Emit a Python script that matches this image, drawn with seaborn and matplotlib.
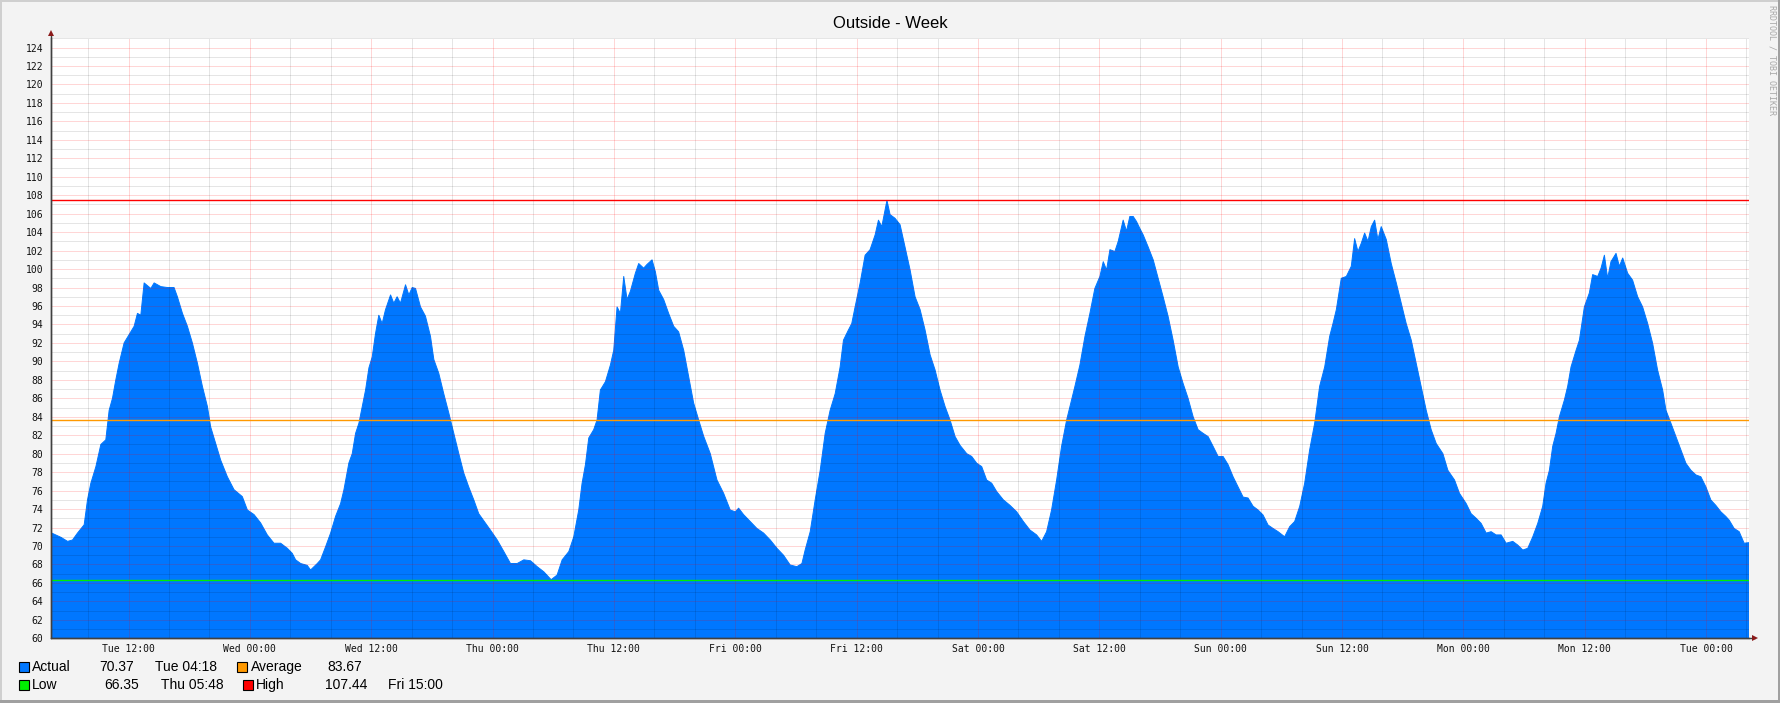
import matplotlib
matplotlib.use("Agg")
import numpy as np
import pandas as pd
import seaborn as sns
import matplotlib.pyplot as plt
from matplotlib.patches import Rectangle
from matplotlib.lines import Line2D
from matplotlib.ticker import MultipleLocator, FixedLocator

# ---------------- data (hours since Tue 00:00, temperature) ----------------
hours = [
    4.3, 5.31, 5.97, 6.46, 6.95, 7.61, 7.94, 8.27, 8.77, 9.26, 9.75, 10.08, 10.41, 10.74, 11.07,
    11.56, 12.06, 12.55, 12.88, 13.21, 13.54, 14.2, 14.53, 15.19, 15.84, 16.5, 16.83, 17.33,
    17.82, 18.31, 18.81, 19.3, 19.8, 20.12, 20.62, 21.11, 21.77, 22.43, 23.25, 23.75, 24.41,
    25.06, 25.72, 26.38, 27.04, 27.7, 28.19, 28.52, 29.02, 29.67, 30.0, 30.66, 30.99, 31.48,
    31.98, 32.47, 32.97, 33.3, 33.79, 34.12, 34.45, 34.78, 35.11, 35.44, 35.77, 36.1, 36.42,
    36.75, 37.08, 37.41, 37.91, 38.23, 38.56, 38.89, 39.39, 39.72, 40.05, 40.38, 40.87, 41.36,
    41.86, 42.19, 42.68, 43.17, 43.67, 44.16, 44.66, 45.15, 45.64, 46.14, 46.63,
    47.8, 48.46, 49.11, 49.77, 50.43, 51.09, 51.75, 52.41, 53.07, 53.79, 54.38, 54.88, 55.54,
    56.03, 56.52, 56.85, 57.18, 57.51, 58.0, 58.33, 58.66, 59.16, 59.65, 59.98, 60.31, 60.64,
    60.97, 61.3, 61.63, 62.12, 62.45, 62.94, 63.27, 63.77, 64.1, 64.43, 64.92, 65.41, 65.91,
    66.4, 66.9, 67.39, 67.88, 68.38, 68.87, 69.53, 70.19, 70.85, 71.5, 72.0, 72.33, 72.82,
    73.48, 74.14, 74.8, 75.46, 76.12, 76.77, 77.43, 78.09, 78.59, 78.91, 79.41, 79.9, 80.4,
    80.89, 81.38, 81.88, 82.37, 82.7, 83.19, 83.52, 83.85, 84.35, 84.84, 85.33, 85.83, 86.16,
    86.49, 87.0, 87.31, 87.8, 88.3, 88.79, 89.29,
    89.78, 90.28, 90.77, 91.27, 91.76, 92.25, 92.75, 93.24, 93.74, 94.23, 94.89, 95.38, 95.88,
    96.37, 96.86, 97.36, 97.85, 98.51, 99.17, 99.83, 100.49, 101.14, 101.8, 102.3, 102.79,
    103.28, 103.78, 104.27, 104.77, 105.1, 105.59, 106.08, 106.58, 107.07, 107.56, 108.06,
    108.39, 108.72, 109.05, 109.54, 109.87, 110.36, 110.69, 111.02, 111.35, 111.68, 112.01,
    112.34, 112.83, 113.33, 113.82, 114.31, 114.81, 115.3, 115.8, 116.29, 116.78, 117.28,
    117.77, 118.27, 118.76, 119.25, 119.75, 120.24, 120.74, 121.23, 121.72, 122.22, 122.71,
    123.21, 123.7, 124.19, 124.69, 125.18, 125.68, 126.33, 126.83, 127.32, 127.82, 128.31,
    128.8, 129.3, 129.79, 130.29,
    130.78, 131.11, 131.44, 131.93, 132.43, 132.92, 133.25, 133.58, 133.91, 134.24, 134.57,
    134.9, 135.23, 135.55, 135.88, 136.38, 136.87, 137.37, 137.86, 138.35, 138.85, 139.34,
    139.83, 140.33, 140.82, 141.32, 141.98, 142.47, 143.13, 143.62, 144.28, 144.77, 145.27,
    145.76, 146.26, 146.75, 147.24, 147.74, 148.23, 148.89, 149.38, 149.88, 150.37, 150.87,
    151.36, 151.85, 152.18, 152.51, 152.84, 153.17, 153.5, 153.99, 154.32, 154.65, 155.15,
    155.48, 155.97, 156.46, 156.79, 157.29, 157.62, 157.95, 158.27, 158.6, 159.1, 159.43,
    159.76, 160.25, 160.74, 161.24, 161.73, 162.23, 162.72, 163.21, 163.71, 164.04, 164.53,
    165.02, 165.52, 166.01, 166.51, 167.0, 167.49, 167.99, 168.48, 168.97, 169.47, 169.96,
    170.29, 170.78, 171.28, 171.77, 172.3,
]
temps = [
    71.45, 70.94, 70.5, 70.65, 71.4, 72.3, 75.0, 76.8, 78.6, 81.0, 81.5, 84.7, 86.0, 88.0, 89.8,
    92.0, 92.9, 93.8, 95.2, 95.0, 98.5, 97.9, 98.5, 98.1, 98.0, 98.0, 97.0, 95.2,
    93.8, 92.0, 89.8, 87.3, 85.1, 82.9, 81.1, 79.3, 77.5, 76.1, 75.35, 73.9, 73.4,
    72.5, 71.2, 70.3, 70.3, 69.75, 69.2, 68.5, 68.1, 67.9, 67.4, 68.1, 68.5, 69.9,
    71.4, 73.2, 74.6, 76.1, 79.0, 80.0, 82.2, 83.3, 85.1, 86.9, 89.3, 90.5, 93.0,
    95.0, 94.1, 95.6, 97.2, 96.3, 97.0, 96.3, 98.3, 97.2, 98.0, 97.9, 95.9, 94.9,
    92.7, 90.2, 88.7, 86.5, 84.4, 82.2, 80.0, 77.9, 76.4, 75.0, 73.5,
    71.7, 70.65, 69.4, 68.1, 68.1, 68.5, 68.4, 67.76, 67.2, 66.35, 66.85, 68.5, 69.4,
    71.0, 73.9, 76.8, 78.8, 81.7, 82.6, 83.65, 86.9, 87.8, 89.6, 91.2, 95.9, 95.2,
    99.2, 96.7, 97.6, 99.55, 100.6, 100.1, 100.5, 101.0, 99.7, 97.7, 96.7, 95.2, 93.8,
    93.2, 91.2, 88.35, 85.5, 83.65, 81.9, 80.0, 77.15, 75.7, 73.9, 73.7, 74.1, 73.4,
    72.65, 71.9, 71.4, 70.65, 69.75, 69.0, 67.94, 67.76, 68.1, 69.56, 71.55, 74.98, 78.2,
    82.2, 84.7, 86.5, 89.4, 92.3, 93.4, 94.1, 95.9, 98.5, 101.5, 102.1, 103.7, 105.3,
    104.6, 107.44, 105.9, 105.5, 104.8, 102.4, 99.9,
    97.0, 95.6, 93.4, 90.7, 89.07, 86.9, 85.1, 83.65, 81.85, 80.9, 80.0, 79.7, 78.96,
    78.6, 77.15, 76.8, 75.9, 75.0, 74.4, 73.7, 72.65, 71.73, 71.2, 70.5, 71.55,
    73.9, 77.15, 80.8, 83.65, 85.1, 87.3, 89.6, 92.7, 95.2, 97.9, 99.2,
    100.8, 99.9, 102.1, 101.9, 103.0, 105.3, 104.1, 105.7, 105.7, 105.15, 104.4,
    103.7, 102.4, 101.0, 99.0, 97.0, 94.85, 92.3, 89.4, 87.6, 86.0, 84.0,
    82.6, 82.2, 81.85, 80.8, 79.7, 79.7, 78.8, 77.5, 76.4, 75.3, 75.2,
    74.3, 73.9, 73.36, 72.27, 71.9, 71.55, 71.0, 72.1, 72.65, 74.3, 76.8,
    80.4, 83.3, 87.3, 89.4,
    92.7, 94.1, 95.6, 99.0, 99.2, 100.3, 103.3, 101.9, 102.8, 103.9, 103.0,
    104.6, 105.3, 103.2, 104.6, 103.2, 100.6, 98.5, 96.3, 94.1, 92.3, 89.8,
    87.3, 84.7, 82.6, 81.1, 80.0, 78.2, 77.15, 75.7, 74.6, 73.5, 73.0,
    72.45, 71.4, 71.55, 71.2, 71.2, 70.3, 70.5, 70.1, 69.56, 69.75, 71.0,
    72.45, 74.3, 76.8, 78.2, 80.8, 82.2, 84.0, 85.8, 87.3, 89.4, 91.2,
    92.3, 95.9, 97.4, 99.4, 99.2, 100.1, 101.5, 99.0, 100.8, 101.7, 100.3,
    101.2, 99.55, 98.8, 97.0, 95.9, 94.1, 91.96, 89.07, 86.9, 84.7, 83.3,
    81.85, 80.4, 78.96, 78.2, 77.7, 77.5, 76.4, 74.98, 74.4, 73.7, 73.2,
    72.8, 71.9, 71.55, 70.3, 70.37,
]

x_tick_hours = [12, 24, 36, 48, 60, 72, 84, 96, 108, 120, 132, 144, 156, 168]
x_tick_labels = ["Tue 12:00", "Wed 00:00", "Wed 12:00", "Thu 00:00", "Thu 12:00",
                 "Fri 00:00", "Fri 12:00", "Sat 00:00", "Sat 12:00", "Sun 00:00",
                 "Sun 12:00", "Mon 00:00", "Mon 12:00", "Tue 00:00"]
y_ticks = list(range(60, 125, 2))

title = "Outside - Week"
avg_value = 83.67
low_value = 66.35
high_value = 107.44
legend_row1 = [("Actual", "70.37", "Tue 04:18"), ("Average", "83.67", "")]
legend_row2 = [("Low", "66.35", "Thu 05:48"), ("High", "107.44", "Fri 15:00")]

# ---------------- style ----------------
BLUE = "#0077FF"
ORANGE = "#FF9900"
GREEN = "#00EE00"
RED = "#FF0000"
AXIS = "#404040"
ARROW = "#8B1A1A"

sns.set_style("white")
plt.rcParams['font.family'] = ['Liberation Sans', 'DejaVu Sans']

W, H = 1781, 703
L, R, T, B = 50.7, 1749.5, 38.3, 638.3
fig = plt.figure(figsize=(W / 100, H / 100), dpi=100, facecolor="#F3F3F3")
ax = fig.add_axes([L / W, 1 - B / H, (R - L) / W, (B - T) / H])
ax.set_facecolor("white")

df = pd.DataFrame({"hour": hours, "temp": temps})
ax.fill_between(df["hour"], df["temp"], 0, color=BLUE, linewidth=0, zorder=1)
sns.lineplot(data=df, x="hour", y="temp", ax=ax, color=BLUE, linewidth=0.7,
             estimator=None, zorder=1.5)

ax.set_xlim(4.3, 172.3)
ax.set_ylim(60, 125)
ax.set_xlabel("")
ax.set_ylabel("")

ax.xaxis.set_major_locator(FixedLocator(x_tick_hours))
ax.set_xticklabels(x_tick_labels)
ax.xaxis.set_minor_locator(MultipleLocator(4))
ax.yaxis.set_major_locator(FixedLocator(y_ticks))
ax.set_yticklabels([str(v) for v in y_ticks])
ax.yaxis.set_minor_locator(MultipleLocator(1))

ax.set_axisbelow(False)
ax.grid(which="minor", color="#000000", alpha=0.2, linestyle=(0, (1, 1)), linewidth=0.72)
ax.grid(which="major", color="#FF0000", alpha=0.32, linestyle=(0, (1, 1)), linewidth=0.72)

ax.axhline(avg_value, color=ORANGE, linewidth=1.0, zorder=3)
ax.axhline(low_value, color=GREEN, linewidth=1.0, zorder=3)
ax.axhline(high_value, color=RED, linewidth=1.0, zorder=3)

for s in ["top", "right"]:
    ax.spines[s].set_visible(False)
for s in ["left", "bottom"]:
    ax.spines[s].set_color(AXIS)
    ax.spines[s].set_linewidth(1.0)
    ax.spines[s].set_zorder(4)

ax.tick_params(axis="both", which="major", direction="out", length=2.2, width=0.8,
               color=AXIS, labelsize=7, labelcolor="#111111")
ax.tick_params(axis="both", which="minor", length=0)
ax.tick_params(axis="y", which="major", pad=3.3)
ax.tick_params(axis="x", which="major", pad=2.2)
for lab in ax.get_xticklabels() + ax.get_yticklabels():
    lab.set_fontfamily("DejaVu Sans Mono")

# axis extensions and arrows
fig.add_artist(Line2D([L / W, L / W], [1 - B / H, 1 - 34 / H], color=AXIS, lw=1.0,
                      transform=fig.transFigure))
fig.add_artist(Line2D([L / W, 1755 / W], [1 - B / H, 1 - B / H], color=AXIS, lw=1.0,
                      transform=fig.transFigure))
fig.add_artist(Line2D([L / W], [1 - 33.3 / H], marker="^", markersize=4.2, color=ARROW,
                      markeredgewidth=0, transform=fig.transFigure))
fig.add_artist(Line2D([1755.5 / W], [1 - B / H], marker=">", markersize=4.2, color=ARROW,
                      markeredgewidth=0, transform=fig.transFigure))

# title
fig.text(890 / W, 1 - 28.3 / H, title, ha="center", va="baseline", fontsize=12, color="#000000")

# watermark
fig.text(1772 / W, 1 - 5 / H, "RRDTOOL / TOBI OETIKER", rotation=270, ha="center", va="top",
         fontsize=6, family="DejaVu Sans Mono", color="#A8A8A8")

# legend
def swatch(x, ytop, color):
    fig.add_artist(Rectangle((x / W, 1 - (ytop + 10) / H), 10 / W, 10 / H, facecolor=color,
                             edgecolor="black", linewidth=0.8, transform=fig.transFigure))

def ltext(x, ybase, s):
    fig.text(x / W, 1 - ybase / H, s, ha="left", va="baseline", fontsize=10, color="#000000")

row1_y, row2_y = 671.0, 689.3
swatch(19, 661.7, BLUE)
ltext(32, row1_y, legend_row1[0][0]); ltext(99, row1_y, legend_row1[0][1]); ltext(155, row1_y, legend_row1[0][2])
swatch(237.3, 661.7, ORANGE)
ltext(250.5, row1_y, legend_row1[1][0]); ltext(327, row1_y, legend_row1[1][1])
swatch(19, 680, GREEN)
ltext(32, row2_y, legend_row2[0][0]); ltext(104, row2_y, legend_row2[0][1]); ltext(161, row2_y, legend_row2[0][2])
swatch(243.3, 680, RED)
ltext(256, row2_y, legend_row2[1][0]); ltext(324.5, row2_y, legend_row2[1][1]); ltext(388, row2_y, legend_row2[1][2])

# frame border
fig.add_artist(Rectangle((0, 1 - 2 / H), 1, 2 / H, facecolor="#CFCFCF", edgecolor="none",
                         transform=fig.transFigure))
fig.add_artist(Rectangle((0, 0), 2 / W, 1, facecolor="#CFCFCF", edgecolor="none",
                         transform=fig.transFigure))
fig.add_artist(Rectangle((0, 0), 1, 3.5 / H, facecolor="#A0A0A0", edgecolor="none",
                         transform=fig.transFigure))
fig.add_artist(Rectangle((1 - 3.3 / W, 0), 3.3 / W, 1, facecolor="#A0A0A0", edgecolor="none",
                         transform=fig.transFigure))

fig.savefig("out.png", dpi=100, facecolor=fig.get_facecolor())
